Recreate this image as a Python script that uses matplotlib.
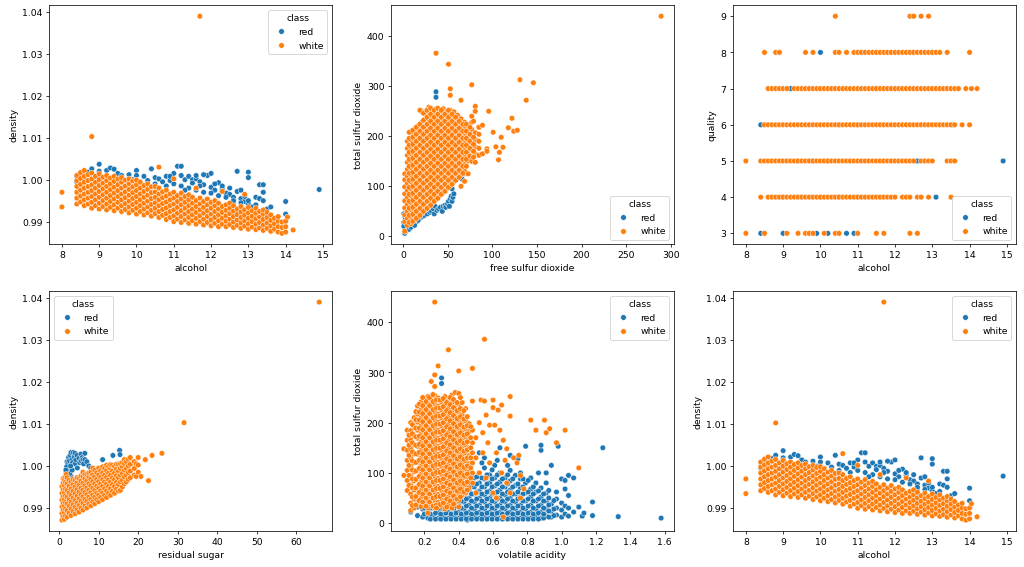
import matplotlib
matplotlib.use("Agg")
import matplotlib.pyplot as plt
import seaborn as sns
import pandas as pd

# ---------------- Panel 1 / 6 : alcohol vs density ----------------
red_ad_alcohol = [
    8.4, 8.4, 8.5, 8.7, 8.8, 9.0, 9.0, 9.2, 9.3, 9.4,
    9.5, 9.6, 9.8, 10.0, 10.0, 10.2, 10.4, 10.5, 10.6, 10.8,
    10.9, 11.0, 11.1, 11.2, 11.2, 11.3, 11.4, 11.5, 11.5, 11.6,
    11.7, 11.8, 11.9, 12.0, 12.0, 12.2, 12.3, 12.4, 12.5, 12.5,
    12.6, 12.7, 12.7, 12.8, 12.8, 12.9, 13.0, 13.0, 13.0, 13.1,
    13.2, 13.3, 13.3, 13.4, 13.4, 13.4, 13.5, 13.6, 14.0, 14.0,
    14.9, 9.1, 9.9, 10.3, 10.7, 11.8, 12.1, 12.6, 13.2, 13.1,
    10.5, 10.8, 11.0, 11.2, 11.4, 11.6, 11.8, 12.0, 12.2, 12.4, 12.6, 12.8, 13.0,
    11.3, 11.7, 12.1, 10.9, 11.6, 12.3, 12.9, 9.2, 9.5, 9.8, 10.1, 9.0, 8.6,
]
red_ad_density = [
    1.0008, 0.9995, 1.0012, 1.0018, 1.0026, 1.0037, 1.0020, 1.0022, 1.0028, 1.0025,
    1.0015, 1.0010, 1.0012, 1.0022, 1.0010, 1.0008, 1.0026, 1.0005, 1.0002, 1.0008,
    0.9998, 1.0015, 1.0032, 1.0032, 1.0010, 1.0000, 1.0008, 1.0000, 0.9992, 1.0002,
    0.9995, 0.9988, 1.0010, 1.0015, 0.9982, 0.9993, 0.9978, 0.9968, 0.9980, 0.9965,
    0.9958, 1.0020, 0.9972, 0.9975, 0.9955, 0.9948, 1.0018, 1.0005, 0.9942, 0.9935,
    0.9958, 0.9955, 0.9988, 0.9988, 0.9970, 0.9950, 0.9930, 0.9935, 0.9948, 0.9918,
    0.99765, 1.0005, 1.0000, 0.9998, 0.9995, 1.0012, 0.9975, 0.9945, 0.9940, 0.9925,
    0.9990, 0.9985, 0.9990, 0.9985, 0.9980, 0.9975, 0.9970, 0.9968, 0.9962, 0.9958, 0.9950, 0.9945, 0.9950,
    0.9975, 0.9985, 0.9990, 1.0008, 1.0010, 0.9985, 0.9960, 1.0000, 0.9998, 0.9995, 0.9995, 1.0005, 1.0002,
]

white_ad_alcohol_levels = [
    8.0, 8.4, 8.5, 8.6, 8.7, 8.8, 8.9, 9.0, 9.1, 9.2, 9.3, 9.4, 9.5, 9.6, 9.7,
    9.8, 9.9, 10.0, 10.1, 10.2, 10.3, 10.4, 10.5, 10.6, 10.7, 10.8, 10.9, 11.0,
    11.1, 11.2, 11.3, 11.4, 11.5, 11.6, 11.7, 11.8, 11.9, 12.0, 12.1, 12.2, 12.3,
    12.4, 12.5, 12.6, 12.7, 12.8, 12.9, 13.0, 13.1, 13.2, 13.3, 13.4, 13.5, 13.6,
    13.7, 13.8, 13.9, 14.0, 14.05, 14.2,
]
white_ad_density_groups = [
    [0.9970, 0.9935],
    [0.9942, 0.9956, 0.9970, 0.9984, 0.9998, 1.0010],
    [0.9947, 0.9961, 0.9975, 0.9989, 1.0003, 1.0017],
    [0.9938, 0.9952, 0.9966, 0.9980, 0.9994, 1.0008, 1.0022],
    [0.9942, 0.9956, 0.9970, 0.9984, 0.9998, 1.0012],
    [0.9932, 0.9946, 0.9960, 0.9974, 0.9988, 1.0002, 1.0016, 1.0103],
    [0.9938, 0.9952, 0.9966, 0.9980, 0.9994, 1.0008],
    [0.9930, 0.9944, 0.9958, 0.9972, 0.9986, 1.0000, 1.0014],
    [0.9936, 0.9950, 0.9964, 0.9978, 0.9992, 1.0006],
    [0.9928, 0.9942, 0.9956, 0.9970, 0.9984, 0.9998, 1.0010],
    [0.9934, 0.9948, 0.9962, 0.9976, 0.9990, 1.0004],
    [0.9926, 0.9940, 0.9954, 0.9968, 0.9982, 0.9996, 1.0008],
    [0.9932, 0.9946, 0.9960, 0.9974, 0.9988, 1.0002],
    [0.9924, 0.9938, 0.9952, 0.9966, 0.9980, 0.9994, 1.0005],
    [0.9929, 0.9943, 0.9957, 0.9971, 0.9985, 0.9999],
    [0.9921, 0.9935, 0.9949, 0.9963, 0.9977, 0.9991, 1.0002],
    [0.9927, 0.9941, 0.9955, 0.9969, 0.9983, 0.9997],
    [0.9918, 0.9932, 0.9946, 0.9960, 0.9974, 0.9988, 0.9999],
    [0.9924, 0.9938, 0.9952, 0.9966, 0.9980, 0.9994],
    [0.9916, 0.9930, 0.9944, 0.9958, 0.9972, 0.9986],
    [0.9921, 0.9935, 0.9949, 0.9963, 0.9977, 0.9990],
    [0.9913, 0.9927, 0.9941, 0.9955, 0.9969, 0.9983],
    [0.9919, 0.9932, 0.9945, 0.9958, 0.9971, 0.9984],
    [0.9910, 0.9924, 0.9938, 0.9952, 0.9966, 0.9980, 1.0030],
    [0.9915, 0.9929, 0.9943, 0.9957, 0.9971],
    [0.9905, 0.9919, 0.9933, 0.9947, 0.9961, 0.9975],
    [0.9910, 0.9924, 0.9938, 0.9952, 0.9966],
    [0.9900, 0.9914, 0.9928, 0.9942, 0.9956, 0.9970, 1.0002],
    [0.9906, 0.9920, 0.9934, 0.9948, 0.9962],
    [0.9898, 0.9912, 0.9926, 0.9940, 0.9954, 0.9968],
    [0.9904, 0.9918, 0.9932, 0.9946, 0.9960],
    [0.9896, 0.9910, 0.9924, 0.9938, 0.9952, 0.9964],
    [0.9902, 0.9916, 0.9930, 0.9944, 0.9958],
    [0.9894, 0.9908, 0.9922, 0.9936, 0.9950, 0.9980],
    [0.9900, 0.9914, 0.9928, 0.9942, 0.9956, 1.0390],
    [0.9892, 0.9906, 0.9920, 0.9934, 0.9948],
    [0.9898, 0.9912, 0.9926, 0.9940, 0.9954],
    [0.9890, 0.9904, 0.9918, 0.9932, 0.9946],
    [0.9896, 0.9910, 0.9924, 0.9938, 0.9950],
    [0.9888, 0.9902, 0.9916, 0.9930, 0.9944],
    [0.9894, 0.9908, 0.9922, 0.9936, 0.9972],
    [0.9888, 0.9901, 0.9914, 0.9927, 0.9940],
    [0.9893, 0.9906, 0.9919, 0.9932, 0.9944],
    [0.9886, 0.9899, 0.9912, 0.9925, 0.9938],
    [0.9891, 0.9904, 0.9917, 0.9930],
    [0.9884, 0.9897, 0.9910, 0.9923, 0.9936],
    [0.9889, 0.9902, 0.9915, 0.9928, 0.9965],
    [0.9882, 0.9895, 0.9908, 0.9921, 0.9934],
    [0.9887, 0.9900, 0.9913, 0.9926],
    [0.9881, 0.9894, 0.9907, 0.9920, 0.9932],
    [0.9885, 0.9898, 0.9911, 0.9924],
    [0.9879, 0.9892, 0.9905, 0.9918, 0.9928],
    [0.9884, 0.9897, 0.9910, 0.9922],
    [0.9877, 0.9890, 0.9903, 0.9916],
    [0.9882, 0.9895, 0.9908],
    [0.9875, 0.9888, 0.9901, 0.9912],
    [0.9872, 0.9886, 0.9899],
    [0.9875, 0.9888, 0.9901],
    [0.9911],
    [0.9880],
]

# ---------------- Panel 2 : free vs total sulfur dioxide ----------------
red_st_free = [
    1, 1, 2, 3, 3, 4, 5, 6, 6, 8,
    8, 10, 10, 12, 12, 14, 15, 16, 18, 18,
    20, 20, 22, 24, 25, 27, 28, 30, 32, 34,
    35, 36, 38, 40, 42, 44, 45, 47, 48, 50,
    51, 52, 53, 54, 55, 55, 56, 57, 66, 68,
    37, 37, 2, 3, 1, 7, 9, 11, 13, 17,
]
red_st_total = [
    28, 45, 6, 10, 20, 12, 15, 18, 30, 20,
    35, 22, 40, 25, 45, 28, 38, 30, 35, 50,
    38, 45, 40, 42, 50, 45, 55, 48, 50, 55,
    45, 60, 52, 55, 58, 50, 60, 62, 58, 65,
    70, 60, 75, 80, 70, 95, 78, 85, 115, 125,
    289, 278, 40, 35, 20, 14, 18, 26, 22, 32,
]
white_st_free_levels = [2, 5, 9, 13, 17, 21, 25, 29, 33, 37, 41, 45, 49, 53, 57,
                        61, 65, 69, 73, 77, 81, 85, 89, 94, 96, 101]
white_st_total_groups = [
    [10, 29, 43, 57, 71, 85, 99, 113, 125],
    [22, 36, 50, 64, 78, 92, 106, 120, 134, 148, 162, 176, 190],
    [25, 39, 53, 67, 81, 95, 109, 123, 137, 151, 165, 179, 193, 207],
    [32, 46, 60, 74, 88, 102, 116, 130, 144, 158, 172, 186, 200, 214],
    [39, 53, 67, 81, 95, 109, 123, 137, 151, 165, 179, 193, 207, 221],
    [46, 60, 74, 88, 102, 116, 130, 144, 158, 172, 186, 200, 214, 228, 250],
    [53, 67, 81, 95, 109, 123, 137, 151, 165, 179, 193, 207, 221, 235, 248],
    [60, 74, 88, 102, 116, 130, 144, 158, 172, 186, 200, 214, 228, 242, 258],
    [67, 81, 95, 109, 123, 137, 151, 165, 179, 193, 207, 221, 235, 249],
    [74, 88, 102, 116, 130, 144, 158, 172, 186, 200, 214, 228, 242, 255, 366],
    [81, 95, 109, 123, 137, 151, 165, 179, 193, 207, 221, 235, 249],
    [88, 102, 116, 130, 144, 158, 172, 186, 200, 214, 228, 242, 255],
    [95, 109, 123, 137, 151, 165, 179, 193, 207, 221, 235, 249],
    [102, 116, 130, 144, 158, 172, 186, 200, 214, 228, 242, 252, 282, 295],
    [109, 123, 137, 151, 165, 179, 193, 207, 221, 235, 249],
    [116, 130, 144, 158, 172, 186, 200, 214, 228, 242],
    [100, 123, 137, 151, 165, 179, 193, 207, 221, 235, 272],
    [110, 130, 144, 158, 172, 186, 200, 214, 228],
    [125, 151, 165, 179, 193, 207, 221],
    [150, 172, 186, 200, 214, 228, 240, 303],
    [148, 165, 179, 193, 207, 250, 260],
    [162, 176, 190, 204, 218],
    [165, 222],
    [175, 170],
    [250],
    [208],
]
white_st_fill_free_levels = [7, 11, 15, 19, 23, 27, 31, 35, 39, 43, 47, 51, 55,
                             59, 63, 67, 71, 75, 79]
white_st_fill_total_groups = [
    [28, 42, 56, 70, 84, 98, 112, 126, 140, 154, 168, 182, 196, 208],
    [30, 44, 58, 72, 86, 100, 114, 128, 142, 156, 170, 184, 198, 212],
    [36, 50, 64, 78, 92, 106, 120, 134, 148, 162, 176, 190, 204, 218],
    [42, 56, 70, 84, 98, 112, 126, 140, 154, 168, 182, 196, 210, 224, 252],
    [50, 64, 78, 92, 106, 120, 134, 148, 162, 176, 190, 204, 218, 232, 246],
    [56, 70, 84, 98, 112, 126, 140, 154, 168, 182, 196, 210, 224, 238, 252],
    [62, 76, 90, 104, 118, 132, 146, 160, 174, 188, 202, 216, 230, 244, 256],
    [70, 84, 98, 112, 126, 140, 154, 168, 182, 196, 210, 224, 238, 252],
    [76, 90, 104, 118, 132, 146, 160, 174, 188, 202, 216, 230, 244, 256],
    [84, 98, 112, 126, 140, 154, 168, 182, 196, 210, 224, 238, 252],
    [90, 104, 118, 132, 146, 160, 174, 188, 202, 216, 230, 244],
    [98, 112, 126, 140, 154, 168, 182, 196, 210, 224, 238, 252],
    [104, 118, 132, 146, 160, 174, 188, 202, 216, 230, 244],
    [112, 126, 140, 154, 168, 182, 196, 210, 224, 238],
    [118, 132, 146, 160, 174, 188, 202, 216, 230],
    [126, 140, 154, 168, 182, 196, 210, 224],
    [140, 154, 168, 182, 196, 210, 224],
    [160, 176, 190, 204, 218],
    [158, 170, 184, 198, 230],
]
white_st_extra_free = [51, 104, 108, 107, 110, 112, 118, 122, 124, 128, 131, 138, 146, 289]
white_st_extra_total = [344, 179, 168, 153, 198, 178, 217, 236, 210, 212, 313, 272, 307, 440]

# ---------------- Panel 3 : alcohol vs quality ----------------
quality_levels = [3, 4, 5, 6, 7, 8, 9]
red_q_alcohol = [
    [8.4, 9.0, 9.9, 10.2, 10.7, 10.9],
    [9.0, 9.5, 10.0, 10.5, 11.0, 13.1],
    [9.4, 9.8, 10.2, 12.6, 14.9],
    [8.4, 10.5, 11.0, 13.55],
    [9.2, 11.5, 12.0],
    [10.0, 12.5, 13.0],
    [],
]
white_q_alcohol = [
    [8.0, 8.5, 9.1, 9.4, 9.6, 9.7, 9.8, 10.1, 10.4, 10.5, 11.0, 11.5, 11.7, 12.4, 12.6],
    [8.4, 8.6, 8.7, 8.8, 8.9, 9.0, 9.1, 9.2, 9.3, 9.4, 9.5, 9.6, 9.7, 9.8, 9.9,
     10.0, 10.1, 10.2, 10.3, 10.4, 10.5, 10.6, 10.7, 10.8, 10.9, 11.0, 11.1, 11.2,
     11.3, 11.4, 11.5, 11.6, 11.7, 11.8, 11.9, 12.0, 12.2, 12.3, 12.4, 12.6, 12.7,
     12.9, 13.5],
    [8.0, 8.4, 8.5, 8.6, 8.7, 8.8, 8.9, 9.0, 9.1, 9.2, 9.3, 9.4, 9.5, 9.6, 9.7,
     9.8, 9.9, 10.0, 10.1, 10.2, 10.3, 10.4, 10.5, 10.6, 10.7, 10.8, 10.9, 11.0,
     11.1, 11.2, 11.3, 11.4, 11.5, 11.6, 11.7, 11.8, 11.9, 12.0, 12.1, 12.2, 12.3,
     12.4, 12.5, 12.7, 12.8, 12.9, 13.0, 13.4, 13.5, 13.6],
    [8.5, 8.6, 8.7, 8.8, 8.9, 9.0, 9.1, 9.2, 9.3, 9.4, 9.5, 9.6, 9.7, 9.8, 9.9,
     10.0, 10.1, 10.2, 10.3, 10.4, 10.5, 10.6, 10.7, 10.8, 10.9, 11.0, 11.1, 11.2,
     11.3, 11.4, 11.5, 11.6, 11.7, 11.8, 11.9, 12.0, 12.1, 12.2, 12.3, 12.4, 12.5,
     12.6, 12.7, 12.8, 12.9, 13.0, 13.1, 13.2, 13.3, 13.4, 13.5, 13.6, 13.8, 14.0],
    [8.6, 8.7, 8.8, 8.9, 9.0, 9.1, 9.3, 9.4, 9.5, 9.6, 9.7, 9.8, 9.9,
     10.0, 10.1, 10.2, 10.3, 10.4, 10.5, 10.6, 10.7, 10.8, 10.9, 11.0, 11.1, 11.2,
     11.3, 11.4, 11.5, 11.6, 11.7, 11.8, 11.9, 12.0, 12.1, 12.2, 12.3, 12.4, 12.5,
     12.6, 12.7, 12.8, 12.9, 13.0, 13.1, 13.2, 13.3, 13.4, 13.5, 13.6, 13.7, 13.9,
     14.05, 14.2],
    [8.5, 8.8, 8.9, 9.6, 9.8, 10.4, 10.5, 10.7, 10.9, 11.0, 11.1, 11.2, 11.3, 11.4,
     11.5, 11.6, 11.7, 11.8, 11.9, 12.0, 12.1, 12.2, 12.3, 12.4, 12.5, 12.6, 12.7,
     12.8, 12.9, 13.0, 13.1, 13.2, 13.4, 14.0],
    [10.4, 12.4, 12.5, 12.7, 12.9],
]

# ---------------- Panel 4 : residual sugar vs density ----------------
red_sd_sugar = [
    1.5, 1.8, 2.0, 2.0, 2.2, 2.4, 2.5, 2.6, 2.8, 3.0,
    3.0, 3.2, 3.4, 3.6, 3.8, 4.0, 4.0, 4.2, 4.5, 4.6,
    5.0, 5.2, 5.5, 5.6, 5.8, 6.0, 6.2, 6.5, 6.5, 7.0,
    7.5, 8.0, 11.0, 13.6, 15.3, 15.4, 1.2, 1.5, 2.0, 2.5,
    3.0, 1.9, 2.3, 2.7, 3.3, 1.7, 2.1, 0.9, 1.4, 2.9,
]
red_sd_density = [
    0.9975, 0.9985, 0.9995, 1.0010, 1.0005, 1.0020, 0.9990, 1.0012, 1.0025, 1.0032,
    1.0000, 1.0015, 1.0008, 1.0032, 1.0022, 1.0030, 1.0005, 1.0015, 1.0025, 0.9995,
    1.0018, 1.0008, 1.0028, 1.0012, 1.0020, 1.0015, 1.0005, 1.0030, 1.0015, 1.0010,
    1.0000, 0.9995, 1.0015, 1.0025, 1.0037, 1.0027, 0.9960, 0.9945, 0.9980, 0.9970,
    0.9975, 0.9998, 0.9988, 0.9982, 0.9990, 0.9990, 0.9972, 0.9950, 0.9965, 1.0000,
]
white_sd_sugar_levels = [
    0.7, 1.0, 1.3, 1.6, 1.8, 2.0, 2.5, 3.0, 3.5, 4.0, 4.5, 5.0, 5.5, 6.0, 6.5,
    7.0, 7.5, 8.0, 8.5, 9.0, 9.5, 10.0, 10.5, 11.0, 11.5, 12.0, 12.5, 13.0, 13.5,
    14.0, 14.5, 15.0, 15.5, 16.0, 16.5, 17.0, 17.5, 18.0, 19.0, 19.5, 20.0, 20.7,
    21.8, 22.6, 23.5, 26.0, 31.6, 65.8,
]
white_sd_density_groups = [
    [0.9871, 0.9887, 0.9903, 0.9919, 0.9935, 0.9951],
    [0.9879, 0.9895, 0.9911, 0.9927, 0.9943, 0.9959, 0.9970],
    [0.9873, 0.9889, 0.9905, 0.9921, 0.9937, 0.9953, 0.9968],
    [0.9881, 0.9897, 0.9913, 0.9929, 0.9945, 0.9961, 0.9974],
    [0.9980],
    [0.9878, 0.9894, 0.9910, 0.9926, 0.9942, 0.9958, 0.9972],
    [0.9888, 0.9904, 0.9920, 0.9936, 0.9952, 0.9966],
    [0.9882, 0.9898, 0.9914, 0.9930, 0.9946, 0.9962],
    [0.9892, 0.9908, 0.9924, 0.9940, 0.9956, 0.9968],
    [0.9886, 0.9902, 0.9918, 0.9934, 0.9950, 0.9966],
    [0.9896, 0.9912, 0.9928, 0.9944, 0.9960, 0.9972],
    [0.9890, 0.9906, 0.9922, 0.9938, 0.9954, 0.9970],
    [0.9900, 0.9916, 0.9932, 0.9948, 0.9964, 0.9976],
    [0.9895, 0.9911, 0.9927, 0.9943, 0.9959, 0.9975, 0.9985],
    [0.9905, 0.9921, 0.9937, 0.9953, 0.9969, 0.9980],
    [0.9900, 0.9916, 0.9932, 0.9948, 0.9964, 0.9980],
    [0.9910, 0.9926, 0.9942, 0.9958, 0.9974, 0.9984],
    [0.9905, 0.9921, 0.9937, 0.9953, 0.9969, 0.9985],
    [0.9915, 0.9931, 0.9947, 0.9963, 0.9979, 0.9995],
    [0.9910, 0.9926, 0.9942, 0.9958, 0.9974, 0.9990],
    [0.9920, 0.9936, 0.9952, 0.9968, 0.9984],
    [0.9915, 0.9931, 0.9947, 0.9963, 0.9979, 0.9995],
    [0.9925, 0.9941, 0.9957, 0.9973, 0.9989],
    [0.9920, 0.9936, 0.9952, 0.9968, 0.9984, 0.9998],
    [0.9930, 0.9946, 0.9962, 0.9978, 0.9994],
    [0.9925, 0.9941, 0.9957, 0.9973, 0.9989, 1.0002],
    [0.9935, 0.9951, 0.9967, 0.9983, 0.9999],
    [0.9930, 0.9946, 0.9962, 0.9978, 0.9994, 1.0003],
    [0.9940, 0.9956, 0.9972, 0.9988, 1.0002],
    [0.9935, 0.9951, 0.9967, 0.9983, 0.9999],
    [0.9945, 0.9961, 0.9977, 0.9993, 1.0004],
    [0.9940, 0.9956, 0.9972, 0.9988, 1.0004],
    [0.9942, 0.9962, 0.9978, 0.9994, 1.0006],
    [0.9950, 0.9966, 0.9982, 0.9998, 1.0008],
    [0.9958, 0.9974, 0.9990, 1.0006, 1.0015],
    [0.9962, 0.9978, 0.9994, 1.0010],
    [0.9968, 0.9984, 1.0000, 1.0016],
    [0.9972, 0.9988, 1.0004, 1.0020],
    [0.9978, 0.9994, 1.0010],
    [0.9975, 1.0005],
    [0.9985, 1.0002, 1.0020],
    [0.9975],
    [1.0015],
    [0.9965],
    [1.0025],
    [1.0030],
    [1.0103],
    [1.0390],
]

# ---------------- Panel 5 : volatile acidity vs total sulfur dioxide ----------------
red_vt_acidity_levels = [
    0.12, 0.16, 0.19, 0.22, 0.25, 0.28, 0.30, 0.31, 0.34, 0.37,
    0.40, 0.43, 0.45, 0.46, 0.49, 0.52, 0.55, 0.58, 0.61, 0.64,
    0.67, 0.70, 0.73, 0.76, 0.79, 0.82, 0.85, 0.88, 0.91, 0.94,
    0.97, 0.98, 1.00, 1.02, 1.04, 1.07, 1.10, 1.12, 1.13, 1.18,
    1.24, 1.33, 1.58,
]
red_vt_total_groups = [
    [22], [15, 32], [12, 28], [10, 24, 38], [14, 30, 50], [10, 22, 36],
    [289, 278], [14, 28, 44], [10, 22, 36, 52], [14, 28, 42],
    [10, 22, 36, 50, 62], [14, 28, 42, 56], [6], [10, 22, 36, 50, 66, 80],
    [14, 28, 42, 58, 72, 90], [10, 22, 36, 50, 64, 80, 100, 140],
    [14, 28, 42, 56, 72, 88, 110, 130], [10, 22, 36, 50, 64, 80, 96],
    [14, 28, 42, 58, 74, 90, 115], [10, 22, 36, 50, 66, 82, 100, 150],
    [14, 28, 42, 56, 72, 90], [10, 22, 36, 50, 66, 84, 105, 135],
    [14, 28, 42, 58, 75, 95], [10, 22, 36, 52, 70, 88, 100],
    [14, 28, 44, 60, 80, 153], [10, 22, 36, 52, 68, 90],
    [14, 28, 44, 62, 80], [10, 22, 36, 52, 70, 145, 155],
    [14, 28, 44, 60, 80, 100], [12, 24, 38, 115], [16, 30, 48, 62],
    [153], [12, 26, 40, 88], [18, 34, 68, 85], [14, 30, 55, 95],
    [22, 90], [32], [14], [20], [15, 42], [150], [13], [10],
]
red_vt_fill_acidity_levels = [
    0.20, 0.235, 0.265, 0.295, 0.325, 0.355, 0.385, 0.415, 0.445, 0.475,
    0.505, 0.535, 0.565, 0.595, 0.625, 0.655, 0.685, 0.715, 0.745, 0.775,
    0.805, 0.835, 0.865, 0.895, 0.925, 0.955,
]
red_vt_fill_total_groups = [
    [18, 30], [8, 18, 30], [8, 20, 40], [8, 18, 30, 48], [8, 20, 34, 46],
    [8, 18, 30, 44, 60], [8, 20, 34, 48], [8, 18, 30, 44, 58, 72],
    [8, 20, 34, 48, 62], [8, 18, 30, 44, 58, 76, 96],
    [8, 20, 34, 48, 62, 78, 92], [8, 18, 30, 44, 58, 72, 90, 120],
    [8, 20, 34, 48, 62, 78, 96], [8, 18, 30, 44, 58, 72, 88, 106],
    [8, 20, 34, 48, 62, 78, 96, 125], [8, 18, 30, 44, 58, 72, 88],
    [8, 20, 34, 48, 62, 78, 96, 115], [8, 18, 30, 44, 58, 72, 88],
    [8, 20, 34, 48, 62, 78, 128], [8, 18, 30, 44, 58, 72, 88],
    [8, 20, 34, 48, 62, 85], [8, 18, 30, 44, 58, 72],
    [8, 20, 34, 48, 64, 100], [10, 18, 30, 44, 58],
    [12, 24, 36, 50, 65], [15, 28, 45],
]
white_vt_acidity_levels = [
    0.08, 0.10, 0.12, 0.14, 0.16, 0.18, 0.20, 0.22, 0.24, 0.26, 0.28,
    0.30, 0.32, 0.34, 0.36, 0.38, 0.40, 0.42, 0.44, 0.46, 0.48,
]
white_vt_total_groups = [
    [95, 148],
    [65, 85, 105, 125, 145, 165, 185],
    [25, 40, 58, 76, 94, 112, 130, 148, 166, 184, 200],
    [30, 48, 66, 84, 102, 120, 138, 156, 174, 192, 210],
    [41, 57, 73, 89, 105, 121, 137, 153, 169, 185, 201, 217, 233],
    [33, 49, 65, 81, 97, 113, 129, 145, 161, 177, 193, 209, 225, 241],
    [38, 54, 70, 86, 102, 118, 134, 150, 166, 182, 198, 214, 230, 248],
    [30, 46, 62, 78, 94, 110, 126, 142, 158, 174, 190, 206, 222, 238, 252],
    [38, 54, 70, 86, 102, 118, 134, 150, 166, 182, 198, 214, 230, 246, 282],
    [30, 46, 62, 78, 94, 110, 126, 142, 158, 174, 190, 206, 222, 238, 254, 272, 295, 440],
    [41, 57, 73, 89, 105, 121, 137, 153, 169, 185, 201, 217, 233, 249, 313],
    [33, 49, 65, 81, 97, 113, 129, 145, 161, 177, 193, 209, 225, 241],
    [28, 44, 60, 76, 92, 108, 124, 140, 156, 172, 188, 204, 220, 236, 252],
    [36, 52, 68, 84, 100, 116, 132, 148, 164, 180, 196, 212, 228, 244, 345],
    [30, 46, 62, 78, 94, 110, 126, 142, 158, 174, 190, 206, 222, 238, 255],
    [40, 56, 72, 88, 104, 120, 136, 152, 168, 184, 200, 216, 232, 260],
    [45, 61, 77, 93, 109, 125, 141, 157, 173, 189, 205, 221, 237, 258, 303],
    [55, 71, 87, 103, 119, 135, 151, 167, 183, 199, 215, 240],
    [60, 76, 92, 108, 124, 140, 156, 172, 188, 204, 228],
    [70, 86, 102, 118, 134, 150, 166, 182, 198],
    [80, 100, 120, 140, 160, 185, 243, 308],
]
white_vt_fill_acidity_levels = [
    0.11, 0.13, 0.15, 0.17, 0.19, 0.21, 0.23, 0.25, 0.27, 0.29,
    0.31, 0.33, 0.35, 0.37, 0.39, 0.41, 0.43, 0.45, 0.47,
]
white_vt_fill_total_groups = [
    [75, 95, 115, 135, 155, 175],
    [35, 52, 70, 88, 106, 124, 142, 160, 178, 196],
    [36, 53, 70, 87, 104, 121, 138, 155, 172, 189, 206, 222],
    [45, 61, 77, 93, 109, 125, 141, 157, 173, 189, 205, 221, 237],
    [42, 58, 74, 90, 106, 122, 138, 154, 170, 186, 202, 218, 234, 250],
    [34, 50, 66, 82, 98, 114, 130, 146, 162, 178, 194, 210, 226, 242],
    [42, 58, 74, 90, 106, 122, 138, 154, 170, 186, 202, 218, 234, 250],
    [34, 50, 66, 82, 98, 114, 130, 146, 162, 178, 194, 210, 226, 242, 256],
    [36, 53, 69, 85, 101, 117, 133, 149, 165, 181, 197, 213, 229, 245],
    [37, 53, 69, 85, 101, 117, 133, 149, 165, 181, 197, 213, 229, 245],
    [40, 56, 72, 88, 104, 120, 136, 152, 168, 184, 200, 216, 232, 248],
    [32, 48, 64, 80, 96, 112, 128, 144, 160, 176, 192, 208, 224, 240],
    [44, 60, 76, 92, 108, 124, 140, 156, 172, 188, 204, 220, 236, 250],
    [38, 54, 70, 86, 102, 118, 134, 150, 166, 182, 198, 214, 230, 246],
    [48, 64, 80, 96, 112, 128, 144, 160, 176, 192, 208, 224, 240],
    [52, 68, 84, 100, 116, 132, 148, 164, 180, 196, 212, 228, 250],
    [62, 79, 95, 111, 127, 143, 159, 175, 191, 207, 224],
    [66, 82, 98, 114, 130, 146, 162, 178, 194, 212],
    [90, 110, 130, 150, 170, 192],
]
white_vt_extra_acidity = [
    0.50, 0.50, 0.50, 0.52, 0.52, 0.53, 0.54, 0.54, 0.55, 0.55,
    0.56, 0.56, 0.57, 0.58, 0.58, 0.60, 0.60, 0.60, 0.61, 0.62,
    0.62, 0.63, 0.64, 0.65, 0.65, 0.66, 0.66, 0.67, 0.68, 0.68,
    0.70, 0.70, 0.70, 0.72, 0.74, 0.75, 0.76, 0.76, 0.78, 0.82,
    0.85, 0.90, 0.91, 0.93, 0.97, 1.02, 1.10, 0.22, 0.27, 0.40,
]
white_vt_extra_total = [
    60, 130, 170, 100, 200, 245, 140, 180, 366, 243,
    90, 215, 160, 120, 195, 60, 245, 230, 195, 140,
    50, 225, 185, 235, 100, 165, 12, 125, 148, 80,
    252, 213, 60, 130, 120, 135, 50, 95, 68, 205,
    185, 205, 180, 188, 160, 185, 110, 20, 30, 32,
]


def expand(levels, groups):
    xs, ys = [], []
    for lv, g in zip(levels, groups):
        for v in g:
            xs.append(lv)
            ys.append(v)
    return xs, ys


def panel(ax, xname, yname, rx, ry, wx, wy, loc):
    n_r = min(len(rx), len(ry))
    n_w = min(len(wx), len(wy))
    df = pd.DataFrame({
        xname: list(rx[:n_r]) + list(wx[:n_w]),
        yname: list(ry[:n_r]) + list(wy[:n_w]),
        "class": ["red"] * n_r + ["white"] * n_w,
    })
    sns.scatterplot(data=df, x=xname, y=yname, hue="class", ax=ax)
    sns.move_legend(ax, loc)


DPI = 67
fig = plt.figure(figsize=(1024 / DPI, 567.6 / DPI), dpi=DPI)
lefts = [0.0479, 0.3818, 0.7158]
w = 0.2764
top_b, top_h = 0.5687, 0.4208
bot_b, bot_h = 0.0634, 0.4225
axes = [fig.add_axes([l, top_b, w, top_h]) for l in lefts] + \
       [fig.add_axes([l, bot_b, w, bot_h]) for l in lefts]

wad_x, wad_y = expand(white_ad_alcohol_levels, white_ad_density_groups)

wst_x, wst_y = expand(white_st_free_levels, white_st_total_groups)
f_x, f_y = expand(white_st_fill_free_levels, white_st_fill_total_groups)
wst_x += f_x + white_st_extra_free
wst_y += f_y + white_st_extra_total

rq_y, rq_x = expand(quality_levels, red_q_alcohol)
wq_y, wq_x = expand(quality_levels, white_q_alcohol)

wsd_x, wsd_y = expand(white_sd_sugar_levels, white_sd_density_groups)

rvt_x, rvt_y = expand(red_vt_acidity_levels, red_vt_total_groups)
f_x, f_y = expand(red_vt_fill_acidity_levels, red_vt_fill_total_groups)
rvt_x += f_x
rvt_y += f_y
wvt_x, wvt_y = expand(white_vt_acidity_levels, white_vt_total_groups)
f_x, f_y = expand(white_vt_fill_acidity_levels, white_vt_fill_total_groups)
wvt_x += f_x + white_vt_extra_acidity
wvt_y += f_y + white_vt_extra_total

panel(axes[0], "alcohol", "density", red_ad_alcohol, red_ad_density, wad_x, wad_y, "upper right")
panel(axes[1], "free sulfur dioxide", "total sulfur dioxide", red_st_free, red_st_total, wst_x, wst_y, "lower right")
panel(axes[2], "alcohol", "quality", rq_x, rq_y, wq_x, wq_y, "lower right")
panel(axes[3], "residual sugar", "density", red_sd_sugar, red_sd_density, wsd_x, wsd_y, "upper left")
panel(axes[4], "volatile acidity", "total sulfur dioxide", rvt_x, rvt_y, wvt_x, wvt_y, "upper right")
panel(axes[5], "alcohol", "density", red_ad_alcohol, red_ad_density, wad_x, wad_y, "upper right")

fig.savefig("out.png", dpi=DPI)
